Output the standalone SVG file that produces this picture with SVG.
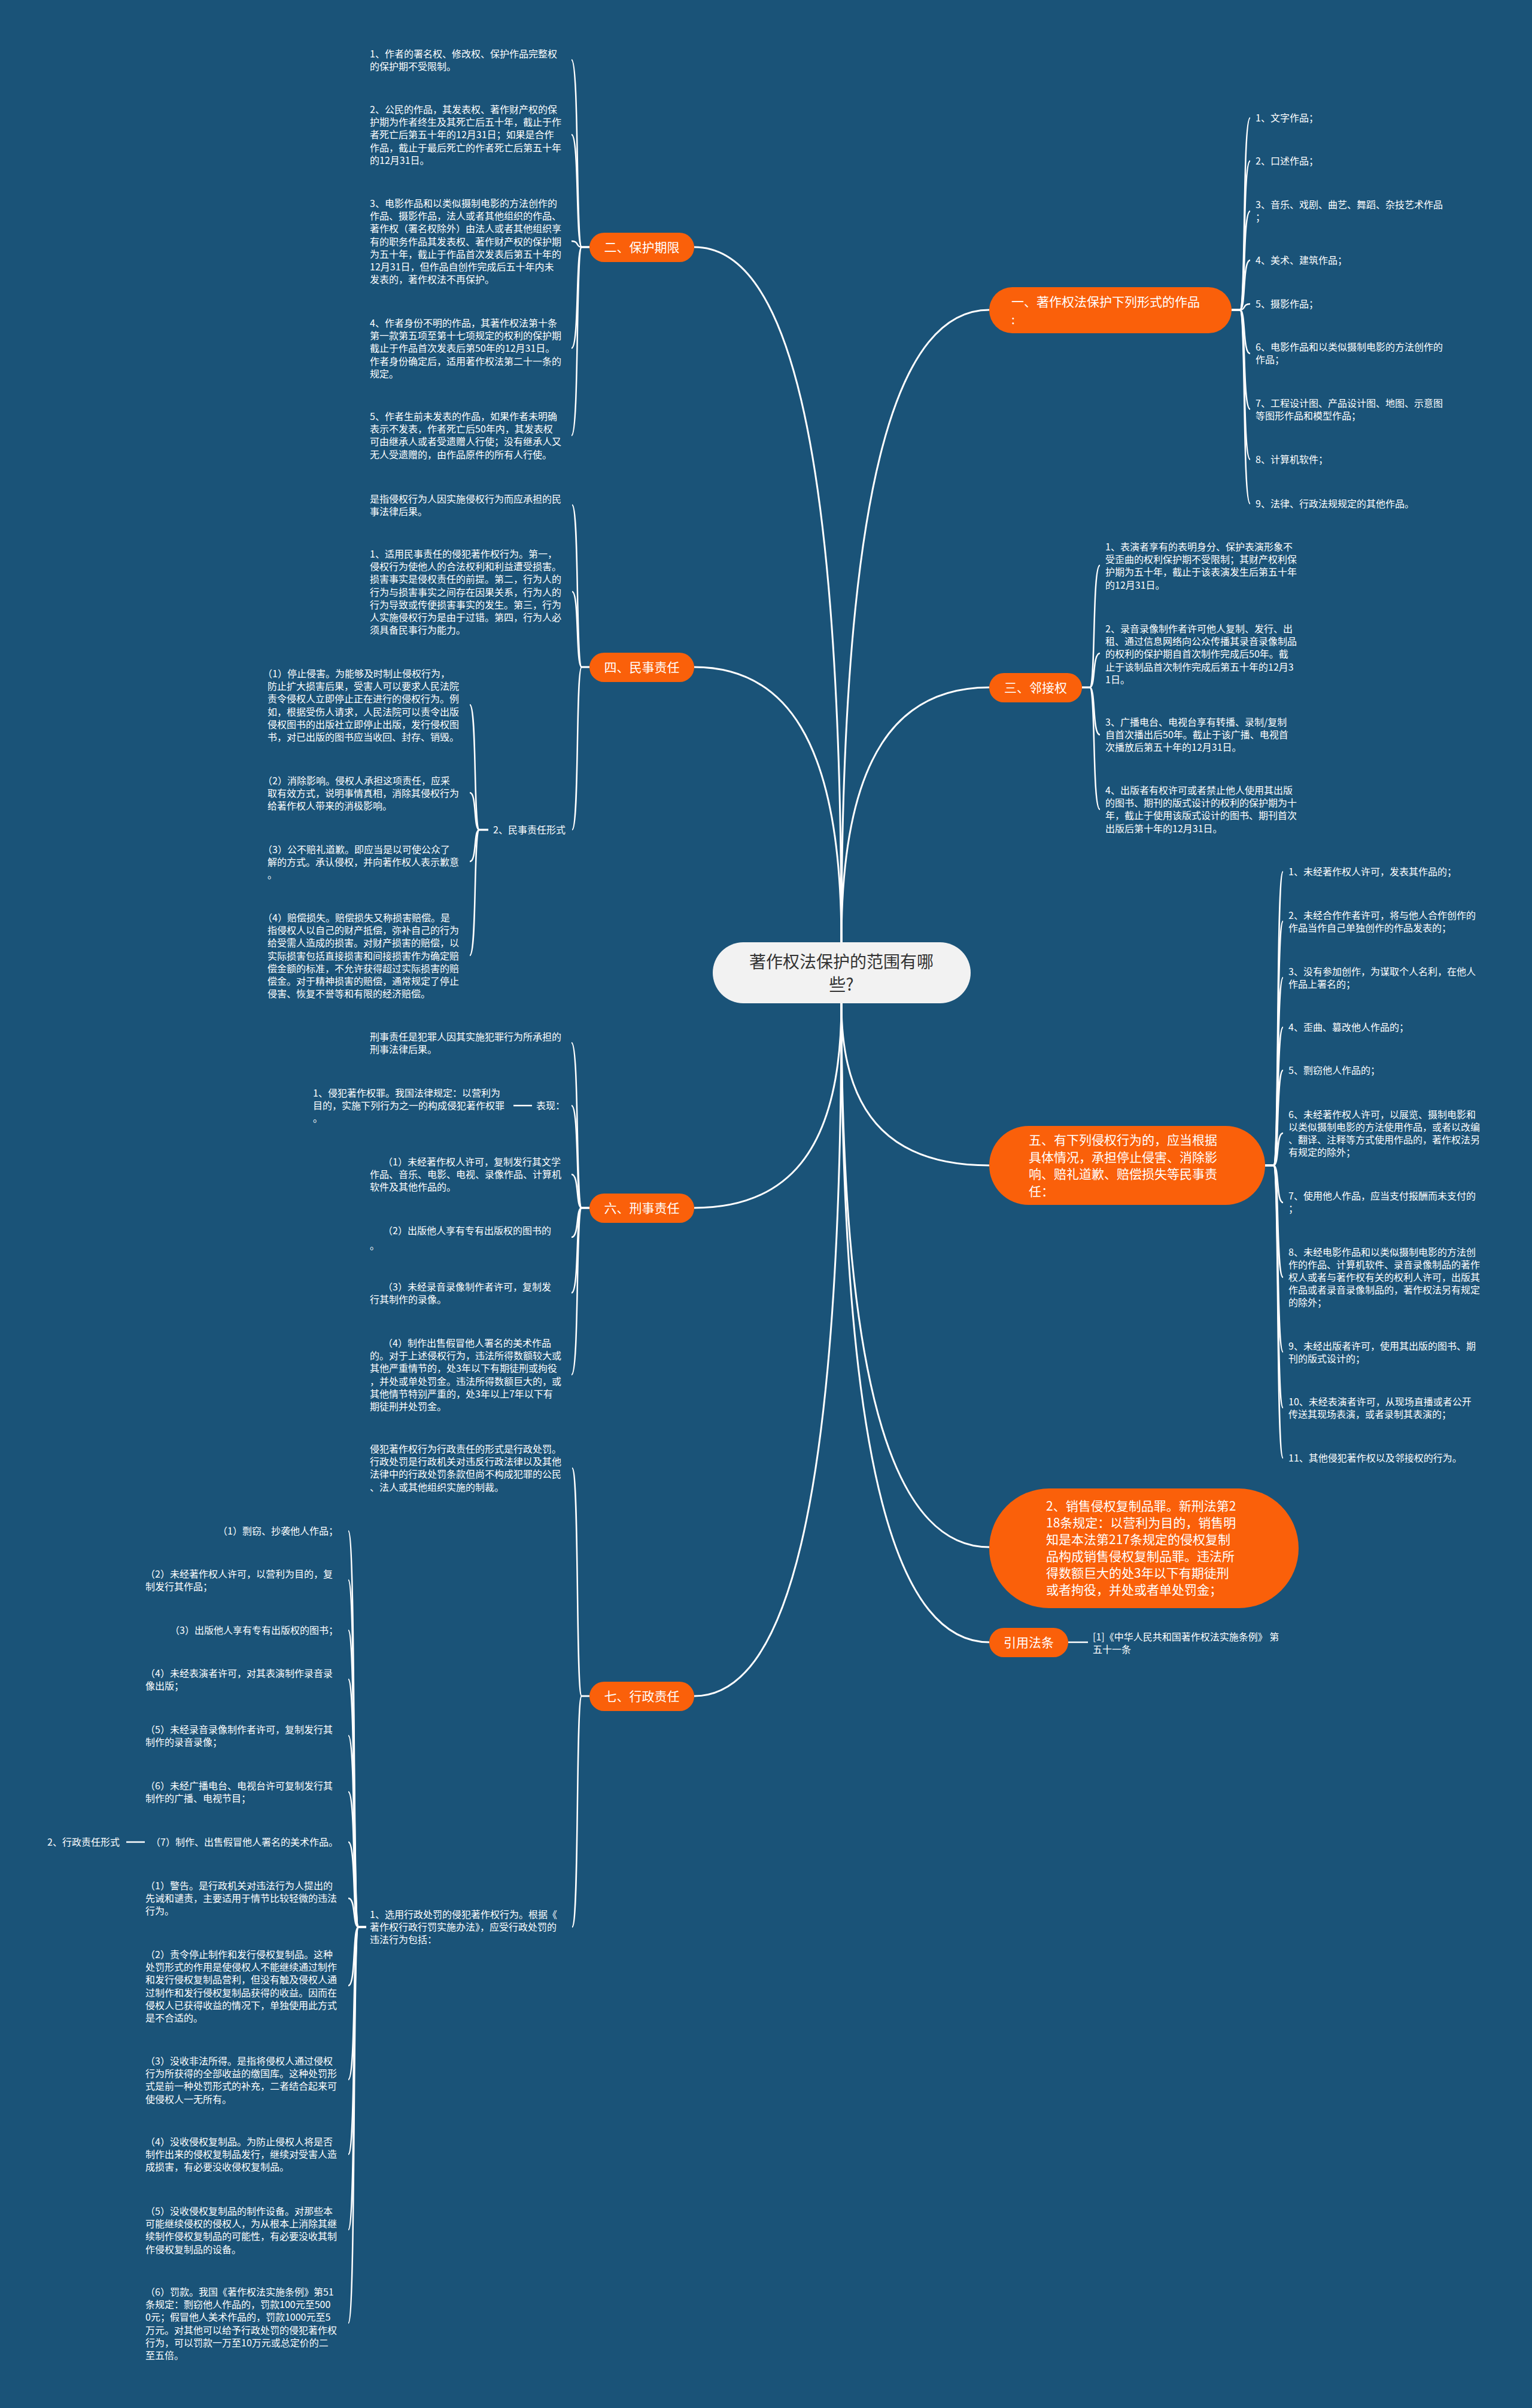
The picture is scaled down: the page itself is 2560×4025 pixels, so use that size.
<svg xmlns="http://www.w3.org/2000/svg" width="2560" height="4025" viewBox="0 0 2560 4025">
<style>
text{font-family:"Noto Sans CJK SC","Noto Sans",sans-serif;}
.s{font-size:16px;fill:#ffffff;}
.n{font-size:21px;fill:#ffffff;}
.c{font-size:28px;fill:#333333;}
.m{fill:none;stroke:#ffffff;stroke-width:3;}
.b{fill:none;stroke:#ffffff;stroke-width:2.5;}
.o{fill:#fa600a;}
</style>
<rect x="0" y="0" width="2560" height="4025" fill="#1a5378"/>
<g id="connectors">
<path class="m" d="M1406,1575 C1406,704 1308,413 1160,413"/>
<path class="m" d="M1406,1575 C1406,1230 1308,1115 1160,1115"/>
<path class="m" d="M1406,1575 C1406,782 1505,518 1653,518"/>
<path class="m" d="M1406,1575 C1406,1255 1505,1149 1653,1149"/>
<path class="m" d="M1406,1677 C1406,1934 1308,2019 1160,2019"/>
<path class="m" d="M1406,1677 C1406,2546 1308,2835 1160,2835"/>
<path class="m" d="M1406,1677 C1406,1880 1505,1948 1653,1948"/>
<path class="m" d="M1406,1677 C1406,2359 1505,2586 1653,2586"/>
<path class="m" d="M1406,1677 C1406,2478 1505,2745 1653,2745"/>
<!-- 二 -->
<path class="b" d="M985,413 H972 C962,413 968,100 955,100"/>
<path class="b" d="M985,413 H972 C962,413 968,225 955,225"/>
<path class="b" d="M985,413 H972 C962,413 968,403 955,403"/>
<path class="b" d="M985,413 H972 C962,413 968,582 955,582"/>
<path class="b" d="M985,413 H972 C962,413 968,728 955,728"/>
<!-- 四 -->
<path class="b" d="M985,1115 H972 C962,1115 968,844 956,844"/>
<path class="b" d="M985,1115 H972 C962,1115 968,989 956,989"/>
<path class="b" d="M985,1115 H972 C962,1115 968,1387 956,1387"/>
<path class="b" d="M816,1387 H801 C791,1387 797,1178 785,1178"/>
<path class="b" d="M816,1387 H801 C791,1387 797,1325 785,1325"/>
<path class="b" d="M816,1387 H801 C791,1387 797,1440 785,1440"/>
<path class="b" d="M816,1387 H801 C791,1387 797,1597 785,1597"/>
<!-- 六 -->
<path class="b" d="M985,2019 H972 C962,2019 968,1743 955,1743"/>
<path class="b" d="M985,2019 H972 C962,2019 968,1848 955,1848"/>
<path class="b" d="M985,2019 H972 C962,2019 968,1963 955,1963"/>
<path class="b" d="M985,2019 H972 C962,2019 968,2068 955,2068"/>
<path class="b" d="M985,2019 H972 C962,2019 968,2161 955,2161"/>
<path class="b" d="M985,2019 H972 C962,2019 968,2298 955,2298"/>
<path class="b" d="M889,1848 H858"/>
<!-- 七 -->
<path class="b" d="M985,2835 H972 C962,2835 968,2454 956,2454"/>
<path class="b" d="M985,2835 H972 C962,2835 968,3221 956,3221"/>
<path class="b" d="M612,3221 H599 C589,3221 595,2559 582,2559"/>
<path class="b" d="M612,3221 H599 C589,3221 595,2641 582,2641"/>
<path class="b" d="M612,3221 H599 C589,3221 595,2725 582,2725"/>
<path class="b" d="M612,3221 H599 C589,3221 595,2807 582,2807"/>
<path class="b" d="M612,3221 H599 C589,3221 595,2901 582,2901"/>
<path class="b" d="M612,3221 H599 C589,3221 595,2995 582,2995"/>
<path class="b" d="M612,3221 H599 C589,3221 595,3079 582,3079"/>
<path class="b" d="M612,3221 H599 C589,3221 595,3173 582,3173"/>
<path class="b" d="M612,3221 H599 C589,3221 595,3319 582,3319"/>
<path class="b" d="M612,3221 H599 C589,3221 595,3476 582,3476"/>
<path class="b" d="M612,3221 H599 C589,3221 595,3601 582,3601"/>
<path class="b" d="M612,3221 H599 C589,3221 595,3727 582,3727"/>
<path class="b" d="M612,3221 H599 C589,3221 595,3883 582,3883"/>
<path class="b" d="M242,3079 H211"/>
<!-- 一 -->
<path class="b" d="M2058,518 H2072 C2082,518 2076,197 2089,197"/>
<path class="b" d="M2058,518 H2072 C2082,518 2076,269 2089,269"/>
<path class="b" d="M2058,518 H2072 C2082,518 2076,353 2089,353"/>
<path class="b" d="M2058,518 H2072 C2082,518 2076,435 2089,435"/>
<path class="b" d="M2058,518 H2072 C2082,518 2076,508 2089,508"/>
<path class="b" d="M2058,518 H2072 C2082,518 2076,591 2089,591"/>
<path class="b" d="M2058,518 H2072 C2082,518 2076,684 2089,684"/>
<path class="b" d="M2058,518 H2072 C2082,518 2076,768 2089,768"/>
<path class="b" d="M2058,518 H2072 C2082,518 2076,842 2089,842"/>
<!-- 三 -->
<path class="b" d="M1808,1149 H1821 C1831,1149 1825,945 1838,945"/>
<path class="b" d="M1808,1149 H1821 C1831,1149 1825,1092 1838,1092"/>
<path class="b" d="M1808,1149 H1821 C1831,1149 1825,1228 1838,1228"/>
<path class="b" d="M1808,1149 H1821 C1831,1149 1825,1353 1838,1353"/>
<!-- 五 -->
<path class="b" d="M2114,1948 H2128 C2138,1948 2132,1457 2144,1457"/>
<path class="b" d="M2114,1948 H2128 C2138,1948 2132,1540 2144,1540"/>
<path class="b" d="M2114,1948 H2128 C2138,1948 2132,1634 2144,1634"/>
<path class="b" d="M2114,1948 H2128 C2138,1948 2132,1717 2144,1717"/>
<path class="b" d="M2114,1948 H2128 C2138,1948 2132,1789 2144,1789"/>
<path class="b" d="M2114,1948 H2128 C2138,1948 2132,1894 2144,1894"/>
<path class="b" d="M2114,1948 H2128 C2138,1948 2132,2010 2144,2010"/>
<path class="b" d="M2114,1948 H2128 C2138,1948 2132,2135 2144,2135"/>
<path class="b" d="M2114,1948 H2128 C2138,1948 2132,2260 2144,2260"/>
<path class="b" d="M2114,1948 H2128 C2138,1948 2132,2353 2144,2353"/>
<path class="b" d="M2114,1948 H2128 C2138,1948 2132,2437 2144,2437"/>
<!-- 引用 -->
<path class="b" d="M1785,2745 H1818"/>
</g>

<g id="center">
<rect x="1191" y="1575" width="431" height="102" rx="51" fill="#f2f2f2"/>
<text class="c" x="1406" y="1618" text-anchor="middle">著作权法保护的范围有哪</text>
<text class="c" x="1406" y="1656" text-anchor="middle">些?</text>
</g>

<g id="n2">
<rect class="o" x="985" y="389" width="175" height="49" rx="24.5"/>
<text class="n" x="1072.5" y="421" text-anchor="middle">二、保护期限</text>
</g>
<g id="n2-items">
<text class="s" x="618" y="96"><tspan x="618" dy="0">1、作者的署名权、修改权、保护作品完整权</tspan><tspan x="618" dy="21.2">的保护期不受限制。</tspan></text>
<text class="s" x="618" y="189"><tspan x="618" dy="0">2、公民的作品，其发表权、著作财产权的保</tspan><tspan x="618" dy="21.2">护期为作者终生及其死亡后五十年，截止于作</tspan><tspan x="618" dy="21.2">者死亡后第五十年的12月31日；如果是合作</tspan><tspan x="618" dy="21.2">作品，截止于最后死亡的作者死亡后第五十年</tspan><tspan x="618" dy="21.2">的12月31日。</tspan></text>
<text class="s" x="618" y="346"><tspan x="618" dy="0">3、电影作品和以类似摄制电影的方法创作的</tspan><tspan x="618" dy="21.2">作品、摄影作品，法人或者其他组织的作品、</tspan><tspan x="618" dy="21.2">著作权（署名权除外）由法人或者其他组织享</tspan><tspan x="618" dy="21.2">有的职务作品其发表权、著作财产权的保护期</tspan><tspan x="618" dy="21.2">为五十年，截止于作品首次发表后第五十年的</tspan><tspan x="618" dy="21.2">12月31日，但作品自创作完成后五十年内未</tspan><tspan x="618" dy="21.2">发表的，著作权法不再保护。</tspan></text>
<text class="s" x="618" y="546"><tspan x="618" dy="0">4、作者身份不明的作品，其著作权法第十条</tspan><tspan x="618" dy="21.2">第一款第五项至第十七项规定的权利的保护期</tspan><tspan x="618" dy="21.2">截止于作品首次发表后第50年的12月31日。</tspan><tspan x="618" dy="21.2">作者身份确定后，适用著作权法第二十一条的</tspan><tspan x="618" dy="21.2">规定。</tspan></text>
<text class="s" x="618" y="702"><tspan x="618" dy="0">5、作者生前未发表的作品，如果作者未明确</tspan><tspan x="618" dy="21.2">表示不发表，作者死亡后50年内，其发表权</tspan><tspan x="618" dy="21.2">可由继承人或者受遗赠人行使；没有继承人又</tspan><tspan x="618" dy="21.2">无人受遗赠的，由作品原件的所有人行使。</tspan></text>
</g>

<g id="n4">
<rect class="o" x="985" y="1091" width="175" height="49" rx="24.5"/>
<text class="n" x="1072.5" y="1123" text-anchor="middle">四、民事责任</text>
</g>
<g id="n4-items">
<text class="s" x="618" y="840"><tspan x="618" dy="0">是指侵权行为人因实施侵权行为而应承担的民</tspan><tspan x="618" dy="21.2">事法律后果。</tspan></text>
<text class="s" x="618" y="932"><tspan x="618" dy="0">1、适用民事责任的侵犯著作权行为。第一，</tspan><tspan x="618" dy="21.2">侵权行为使他人的合法权利和利益遭受损害。</tspan><tspan x="618" dy="21.2">损害事实是侵权责任的前提。第二，行为人的</tspan><tspan x="618" dy="21.2">行为与损害事实之间存在因果关系，行为人的</tspan><tspan x="618" dy="21.2">行为导致或传便损害事实的发生。第三，行为</tspan><tspan x="618" dy="21.2">人实施侵权行为是由于过错。第四，行为人必</tspan><tspan x="618" dy="21.2">须具备民事行为能力。</tspan></text>
<text class="s" x="824" y="1393">2、民事责任形式</text>
<text class="s" x="447" y="1132"><tspan x="439" dy="0">（1）停止侵害。为能够及时制止侵权行为，</tspan><tspan x="447" dy="21.2">防止扩大损害后果，受害人可以要求人民法院</tspan><tspan x="447" dy="21.2">责令侵权人立即停止正在进行的侵权行为。例</tspan><tspan x="447" dy="21.2">如，根据受伤人请求，人民法院可以责令出版</tspan><tspan x="447" dy="21.2">侵权图书的出版社立即停止出版，发行侵权图</tspan><tspan x="447" dy="21.2">书，对已出版的图书应当收回、封存、销毁。</tspan></text>
<text class="s" x="447" y="1311"><tspan x="439" dy="0">（2）消除影响。侵权人承担这项责任，应采</tspan><tspan x="447" dy="21.2">取有效方式，说明事情真相，消除其侵权行为</tspan><tspan x="447" dy="21.2">给著作权人带来的消极影响。</tspan></text>
<text class="s" x="447" y="1426"><tspan x="439" dy="0">（3）公不赔礼道歉。即应当是以可使公众了</tspan><tspan x="447" dy="21.2">解的方式。承认侵权，并向著作权人表示歉意</tspan><tspan x="447" dy="21.2">。</tspan></text>
<text class="s" x="447" y="1540"><tspan x="439" dy="0">（4）赔偿损失。赔偿损失又称损害赔偿。是</tspan><tspan x="447" dy="21.2">指侵权人以自己的财产抵偿，弥补自己的行为</tspan><tspan x="447" dy="21.2">给受需人造成的损害。对财产损害的赔偿，以</tspan><tspan x="447" dy="21.2">实际损害包括直接损害和间接损害作为确定赔</tspan><tspan x="447" dy="21.2">偿金额的标准，不允许获得超过实际损害的赔</tspan><tspan x="447" dy="21.2">偿金。对于精神损害的赔偿，通常规定了停止</tspan><tspan x="447" dy="21.2">侵害、恢复不誉等和有限的经济赔偿。</tspan></text>
</g>

<g id="n6">
<rect class="o" x="985" y="1995" width="175" height="49" rx="24.5"/>
<text class="n" x="1072.5" y="2027" text-anchor="middle">六、刑事责任</text>
</g>
<g id="n6-items">
<text class="s" x="618" y="1739"><tspan x="618" dy="0">刑事责任是犯罪人因其实施犯罪行为所承担的</tspan><tspan x="618" dy="21.2">刑事法律后果。</tspan></text>
<text class="s" x="896" y="1854">表现：</text>
<text class="s" x="523" y="1833"><tspan x="523" dy="0">1、侵犯著作权罪。我国法律规定：以营利为</tspan><tspan x="523" dy="21.2">目的，实施下列行为之一的构成侵犯著作权罪</tspan><tspan x="523" dy="21.2">。</tspan></text>
<text class="s" x="640" y="1948"><tspan x="640" dy="0">（1）未经著作权人许可，复制发行其文学</tspan><tspan x="618" dy="21.2">作品、音乐、电影、电视、录像作品、计算机</tspan><tspan x="618" dy="21.2">软件及其他作品的。</tspan></text>
<text class="s" x="640" y="2063"><tspan x="640" dy="0">（2）出版他人享有专有出版权的图书的</tspan><tspan x="618" dy="25">。</tspan></text>
<text class="s" x="640" y="2157"><tspan x="640" dy="0">（3）未经录音录像制作者许可，复制发</tspan><tspan x="618" dy="21.2">行其制作的录像。</tspan></text>
<text class="s" x="640" y="2251"><tspan x="640" dy="0">（4）制作出售假冒他人署名的美术作品</tspan><tspan x="618" dy="21.2">的。对于上述侵权行为，违法所得数额较大或</tspan><tspan x="618" dy="21.2">其他严重情节的，处3年以下有期徒刑或拘役</tspan><tspan x="618" dy="21.2">，并处或单处罚金。违法所得数额巨大的，或</tspan><tspan x="618" dy="21.2">其他情节特别严重的，处3年以上7年以下有</tspan><tspan x="618" dy="21.2">期徒刑并处罚金。</tspan></text>
</g>

<g id="n7">
<rect class="o" x="985" y="2811" width="175" height="49" rx="24.5"/>
<text class="n" x="1072.5" y="2843" text-anchor="middle">七、行政责任</text>
</g>
<g id="n7-items">
<text class="s" x="618" y="2428"><tspan x="618" dy="0">侵犯著作权行为行政责任的形式是行政处罚。</tspan><tspan x="618" dy="21.2">行政处罚是行政机关对违反行政法律以及其他</tspan><tspan x="618" dy="21.2">法律中的行政处罚条款但尚不构成犯罪的公民</tspan><tspan x="618" dy="21.2">、法人或其他组织实施的制裁。</tspan></text>
<text class="s" x="618" y="3206"><tspan x="618" dy="0">1、选用行政处罚的侵犯著作权行为。根据《</tspan><tspan x="618" dy="21.2">著作权行政行罚实施办法》，应受行政处罚的</tspan><tspan x="618" dy="21.2">违法行为包括：</tspan></text>
<text class="s" x="565" y="2565" text-anchor="end">（1）剽窃、抄袭他人作品；</text>
<text class="s" x="243" y="2637"><tspan x="243" dy="0">（2）未经著作权人许可，以营利为目的，复</tspan><tspan x="243" dy="21.2">制发行其作品；</tspan></text>
<text class="s" x="565" y="2731" text-anchor="end">（3）出版他人享有专有出版权的图书；</text>
<text class="s" x="243" y="2803"><tspan x="243" dy="0">（4）未经表演者许可，对其表演制作录音录</tspan><tspan x="243" dy="21.2">像出版；</tspan></text>
<text class="s" x="243" y="2897"><tspan x="243" dy="0">（5）未经录音录像制作者许可，复制发行其</tspan><tspan x="243" dy="21.2">制作的录音录像；</tspan></text>
<text class="s" x="243" y="2991"><tspan x="243" dy="0">（6）未经广播电台、电视台许可复制发行其</tspan><tspan x="243" dy="21.2">制作的广播、电视节目；</tspan></text>
<text class="s" x="565" y="3085" text-anchor="end">（7）制作、出售假冒他人署名的美术作品。</text>
<text class="s" x="79" y="3085">2、行政责任形式</text>
<text class="s" x="243" y="3158"><tspan x="243" dy="0">（1）警告。是行政机关对违法行为人提出的</tspan><tspan x="243" dy="21.2">先诫和谴责，主要适用于情节比较轻微的违法</tspan><tspan x="243" dy="21.2">行为。</tspan></text>
<text class="s" x="243" y="3273"><tspan x="243" dy="0">（2）责令停止制作和发行侵权复制品。这种</tspan><tspan x="243" dy="21.2">处罚形式的作用是使侵权人不能继续通过制作</tspan><tspan x="243" dy="21.2">和发行侵权复制品营利，但没有触及侵权人通</tspan><tspan x="243" dy="21.2">过制作和发行侵权复制品获得的收益。因而在</tspan><tspan x="243" dy="21.2">侵权人已获得收益的情况下，单独使用此方式</tspan><tspan x="243" dy="21.2">是不合适的。</tspan></text>
<text class="s" x="243" y="3451"><tspan x="243" dy="0">（3）没收非法所得。是指将侵权人通过侵权</tspan><tspan x="243" dy="21.2">行为所获得的全部收益的缴国库。这种处罚形</tspan><tspan x="243" dy="21.2">式是前一种处罚形式的补充，二者结合起来可</tspan><tspan x="243" dy="21.2">使侵权人一无所有。</tspan></text>
<text class="s" x="243" y="3586"><tspan x="243" dy="0">（4）没收侵权复制品。为防止侵权人将是否</tspan><tspan x="243" dy="21.2">制作出来的侵权复制品发行，继续对受害人造</tspan><tspan x="243" dy="21.2">成损害，有必要没收侵权复制品。</tspan></text>
<text class="s" x="243" y="3702"><tspan x="243" dy="0">（5）没收侵权复制品的制作设备。对那些本</tspan><tspan x="243" dy="21.2">可能继续侵权的侵权人，为从根本上消除其继</tspan><tspan x="243" dy="21.2">续制作侵权复制品的可能性，有必要没收其制</tspan><tspan x="243" dy="21.2">作侵权复制品的设备。</tspan></text>
<text class="s" x="243" y="3837"><tspan x="243" dy="0">（6）罚款。我国《著作权法实施条例》第51</tspan><tspan x="243" dy="21.2">条规定：剽窃他人作品的，罚款100元至500</tspan><tspan x="243" dy="21.2">0元；假冒他人美术作品的，罚款1000元至5</tspan><tspan x="243" dy="21.2">万元。对其他可以给予行政处罚的侵犯著作权</tspan><tspan x="243" dy="21.2">行为，可以罚款一万至10万元或总定价的二</tspan><tspan x="243" dy="21.2">至五倍。</tspan></text>
</g>

<g id="n1">
<rect class="o" x="1653" y="480" width="405" height="77" rx="38.5"/>
<text class="n" x="1690" y="512"><tspan x="1690" dy="0">一、著作权法保护下列形式的作品</tspan><tspan x="1690" dy="30">:</tspan></text>
</g>
<g id="n1-items">
<text class="s" x="2098" y="203">1、文字作品；</text>
<text class="s" x="2098" y="275">2、口述作品；</text>
<text class="s" x="2098" y="348"><tspan x="2098" dy="0">3、音乐、戏剧、曲艺、舞蹈、杂技艺术作品</tspan><tspan x="2098" dy="21.2">；</tspan></text>
<text class="s" x="2098" y="441">4、美术、建筑作品；</text>
<text class="s" x="2098" y="514">5、摄影作品；</text>
<text class="s" x="2098" y="586"><tspan x="2098" dy="0">6、电影作品和以类似摄制电影的方法创作的</tspan><tspan x="2098" dy="21.2">作品；</tspan></text>
<text class="s" x="2098" y="680"><tspan x="2098" dy="0">7、工程设计图、产品设计图、地图、示意图</tspan><tspan x="2098" dy="21.2">等图形作品和模型作品；</tspan></text>
<text class="s" x="2098" y="774">8、计算机软件；</text>
<text class="s" x="2098" y="848">9、法律、行政法规规定的其他作品。</text>
</g>

<g id="n3">
<rect class="o" x="1653" y="1125" width="155" height="49" rx="24.5"/>
<text class="n" x="1730.5" y="1157" text-anchor="middle">三、邻接权</text>
</g>
<g id="n3-items">
<text class="s" x="1847" y="920"><tspan x="1847" dy="0">1、表演者享有的表明身分、保护表演形象不</tspan><tspan x="1847" dy="21.2">受歪曲的权利保护期不受限制；其财产权利保</tspan><tspan x="1847" dy="21.2">护期为五十年，截止于该表演发生后第五十年</tspan><tspan x="1847" dy="21.2">的12月31日。</tspan></text>
<text class="s" x="1847" y="1057"><tspan x="1847" dy="0">2、录音录像制作者许可他人复制、发行、出</tspan><tspan x="1847" dy="21.2">租、通过信息网络向公众传播其录音录像制品</tspan><tspan x="1847" dy="21.2">的权利的保护期自首次制作完成后50年。截</tspan><tspan x="1847" dy="21.2">止于该制品首次制作完成后第五十年的12月3</tspan><tspan x="1847" dy="21.2">1日。</tspan></text>
<text class="s" x="1847" y="1213"><tspan x="1847" dy="0">3、广播电台、电视台享有转播、录制/复制</tspan><tspan x="1847" dy="21.2">自首次播出后50年。截止于该广播、电视首</tspan><tspan x="1847" dy="21.2">次播放后第五十年的12月31日。</tspan></text>
<text class="s" x="1847" y="1327"><tspan x="1847" dy="0">4、出版者有权许可或者禁止他人使用其出版</tspan><tspan x="1847" dy="21.2">的图书、期刊的版式设计的权利的保护期为十</tspan><tspan x="1847" dy="21.2">年，截止于使用该版式设计的图书、期刊首次</tspan><tspan x="1847" dy="21.2">出版后第十年的12月31日。</tspan></text>
</g>

<g id="n5">
<rect class="o" x="1653" y="1882" width="461" height="132" rx="66"/>
<text class="n" x="1719" y="1913"><tspan x="1719" dy="0">五、有下列侵权行为的，应当根据</tspan><tspan x="1719" dy="28.5">具体情况，承担停止侵害、消除影</tspan><tspan x="1719" dy="28.5">响、赔礼道歉、赔偿损失等民事责</tspan><tspan x="1719" dy="28.5">任：</tspan></text>
</g>
<g id="n5-items">
<text class="s" x="2153" y="1463">1、未经著作权人许可，发表其作品的；</text>
<text class="s" x="2153" y="1536"><tspan x="2153" dy="0">2、未经合作作者许可，将与他人合作创作的</tspan><tspan x="2153" dy="21">作品当作自己单独创作的作品发表的；</tspan></text>
<text class="s" x="2153" y="1630"><tspan x="2153" dy="0">3、没有参加创作，为谋取个人名利，在他人</tspan><tspan x="2153" dy="21">作品上署名的；</tspan></text>
<text class="s" x="2153" y="1723">4、歪曲、篡改他人作品的；</text>
<text class="s" x="2153" y="1795">5、剽窃他人作品的；</text>
<text class="s" x="2153" y="1869"><tspan x="2153" dy="0">6、未经著作权人许可，以展览、摄制电影和</tspan><tspan x="2153" dy="21">以类似摄制电影的方法使用作品，或者以改编</tspan><tspan x="2153" dy="21">、翻译、注释等方式使用作品的，著作权法另</tspan><tspan x="2153" dy="21">有规定的除外；</tspan></text>
<text class="s" x="2153" y="2005"><tspan x="2153" dy="0">7、使用他人作品，应当支付报酬而未支付的</tspan><tspan x="2153" dy="21">；</tspan></text>
<text class="s" x="2153" y="2099"><tspan x="2153" dy="0">8、未经电影作品和以类似摄制电影的方法创</tspan><tspan x="2153" dy="21">作的作品、计算机软件、录音录像制品的著作</tspan><tspan x="2153" dy="21">权人或者与著作权有关的权利人许可，出版其</tspan><tspan x="2153" dy="21">作品或者录音录像制品的，著作权法另有规定</tspan><tspan x="2153" dy="21">的除外；</tspan></text>
<text class="s" x="2153" y="2256"><tspan x="2153" dy="0">9、未经出版者许可，使用其出版的图书、期</tspan><tspan x="2153" dy="21">刊的版式设计的；</tspan></text>
<text class="s" x="2153" y="2349"><tspan x="2153" dy="0">10、未经表演者许可，从现场直播或者公开</tspan><tspan x="2153" dy="21">传送其现场表演，或者录制其表演的；</tspan></text>
<text class="s" x="2153" y="2443">11、其他侵犯著作权以及邻接权的行为。</text>
</g>

<g id="n-sale">
<rect class="o" x="1653" y="2488" width="517" height="200" rx="100"/>
<text class="n" x="1748" y="2525"><tspan x="1748" dy="0">2、销售侵权复制品罪。新刑法第2</tspan><tspan x="1748" dy="28">18条规定：以营利为目的，销售明</tspan><tspan x="1748" dy="28">知是本法第217条规定的侵权复制</tspan><tspan x="1748" dy="28">品构成销售侵权复制品罪。违法所</tspan><tspan x="1748" dy="28">得数额巨大的处3年以下有期徒刑</tspan><tspan x="1748" dy="28">或者拘役，并处或者单处罚金；</tspan></text>
</g>

<g id="n-cite">
<rect class="o" x="1653" y="2721" width="132" height="49" rx="24.5"/>
<text class="n" x="1719" y="2753" text-anchor="middle">引用法条</text>
</g>
<g id="n-cite-items">
<text class="s" x="1826" y="2742"><tspan x="1826" dy="0">[1]《中华人民共和国著作权法实施条例》 第</tspan><tspan x="1826" dy="21">五十一条</tspan></text>
</g>
</svg>
